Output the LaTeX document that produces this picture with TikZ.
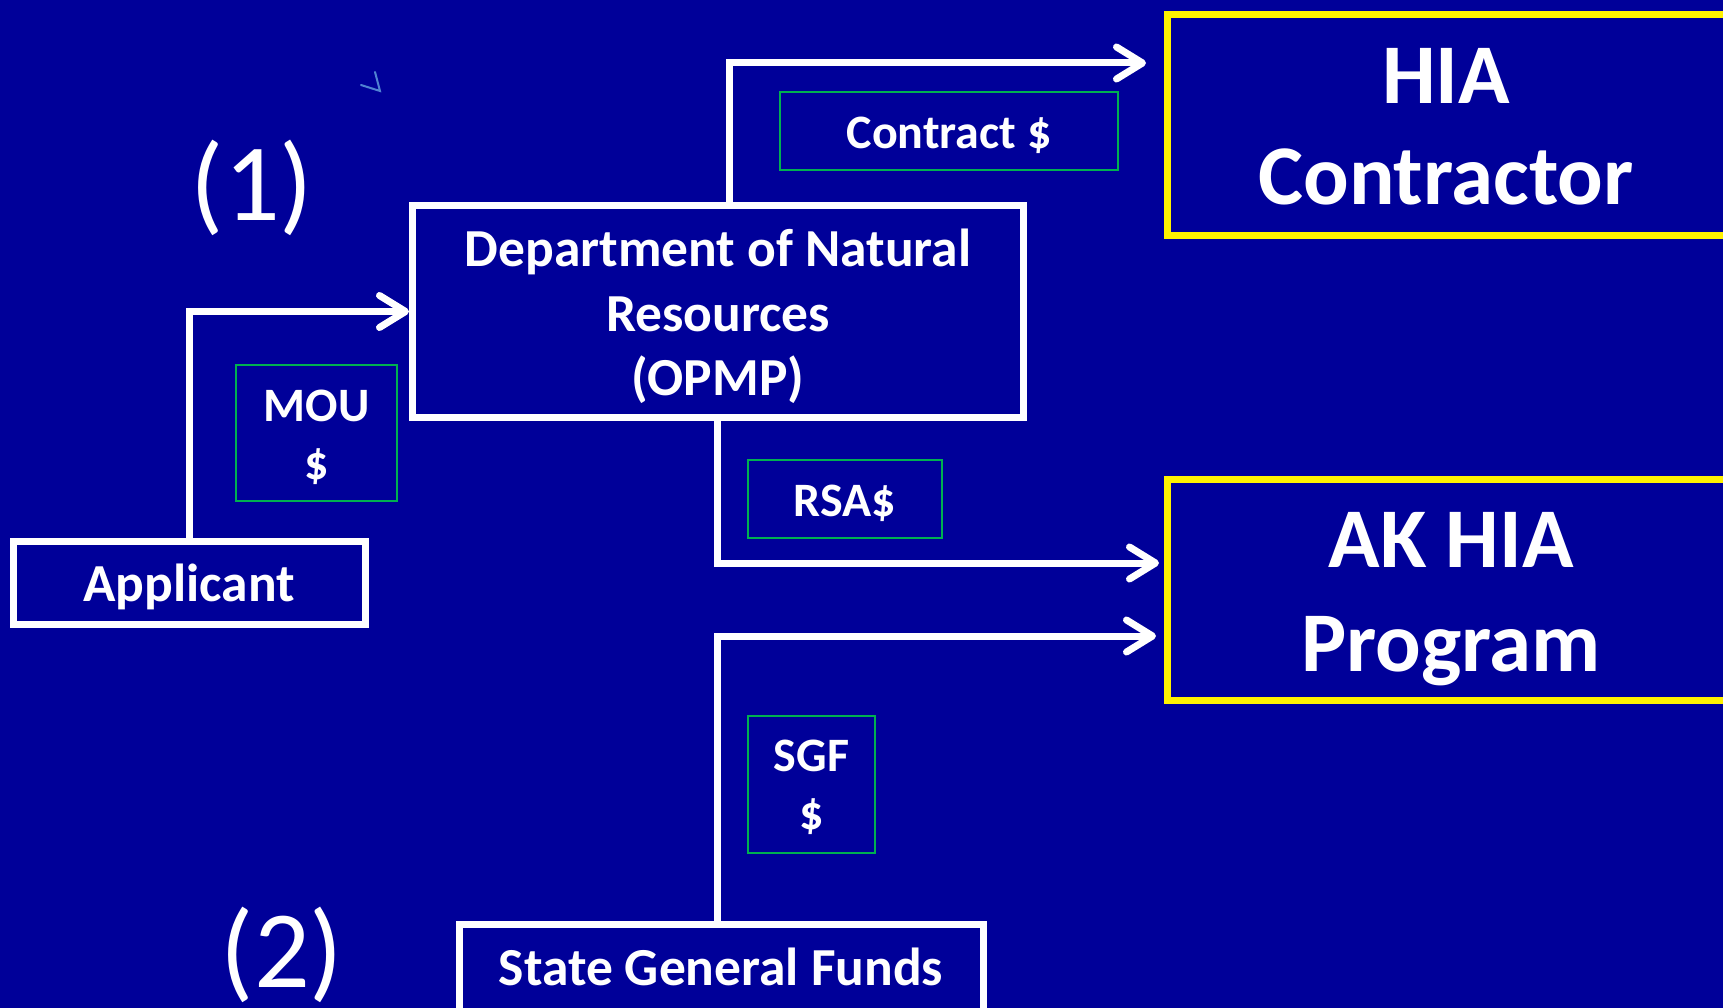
\documentclass[tikz,border=0pt]{standalone}
\usepackage{fontspec}
\setmainfont{Carlito}
\usetikzlibrary{arrows.meta}
\definecolor{bgblue}{RGB}{0,0,153}
\definecolor{lblgreen}{RGB}{0,176,80}
\definecolor{artblue}{RGB}{80,130,210}
\tikzset{
  whitebox/.style={draw=white, line width=7pt, inner sep=0pt},
  whitetext/.style={text=white, font=\fontsize{53.5}{64.5}\selectfont\bfseries, align=center, inner sep=0pt},
  yellowbox/.style={draw=yellow, line width=7pt, inner sep=0pt, outer sep=0pt},
  bigtext/.style={text=white, font=\fontsize{85}{101}\selectfont\bfseries, align=center, inner sep=0pt},
  lblbox/.style={draw=lblgreen, line width=2.5pt, inner sep=0pt},
  lbltext/.style={text=white, font=\fontsize{48}{58}\selectfont\bfseries, align=center, inner sep=0pt},
  numtext/.style={text=white, font=\fontsize{110}{130}\selectfont, inner sep=0pt},
  flow/.style={draw=white, line width=7pt, -{Straight Barb[length=26pt,width=32pt,round]}},
}
\begin{document}
\begin{tikzpicture}[x=1pt,y=-1pt]
\fill[bgblue] (0,0) rectangle (1723,1008);
\useasboundingbox (0,0) rectangle (1723,1008);
\clip (0,0) rectangle (1723,1008);
% artifact
\draw[artblue, line width=2pt, line cap=round] (361,85) -- (380,91) -- (375,72);
% boxes
\node[whitebox, minimum width=352pt, minimum height=83pt] (app) at (189,582.5) {};
\node[whitetext] (appt) at ([yshift=-4.5pt]app.center) {Applicant};
\node[whitebox, minimum width=611pt, minimum height=211pt] (dnr) at (718,311.5) {};
\node[whitetext] (dnrt) at ([yshift=-5pt]dnr.center) {Department of Natural\\Resources\\(OPMP)};
\node[whitebox, outer sep=0pt, minimum width=524pt, minimum height=120pt, anchor=north] (sgf) at (721,924) {};
\node[whitetext] (sgft) at (721,967) {State General Funds};
\node[yellowbox, minimum width=600pt, minimum height=221pt, anchor=north west] (hia) at (1167,15) {};
\node[bigtext] (hiat) at (1446,127) {HIA\\Contractor};
\node[yellowbox, minimum width=600pt, minimum height=221pt, anchor=north west] (ak) at (1167,479) {};
\node[bigtext, font=\fontsize{85}{104}\selectfont\bfseries] (akt) at (1451,599) {AK HIA\\Program};
% labels
\node[lblbox, minimum width=338pt, minimum height=78pt] (lc) at (949,131) {};
\node[lbltext] (lct) at ([yshift=-4.5pt]lc.center) {Contract \$};
\node[lblbox, minimum width=161pt, minimum height=136pt] (lm) at (316.5,433) {};
\node[lbltext] (lmt) at ([yshift=-4pt]lm.center) {MOU\\\$};
\node[lblbox, minimum width=194pt, minimum height=78pt] (lr) at (845,499) {};
\node[lbltext] (lrt) at ([yshift=-4.5pt]lr.center) {RSA\$};
\node[lblbox, minimum width=127pt, minimum height=137pt] (ls) at (811.5,784.5) {};
\node[lbltext] (lst) at ([yshift=-3pt]ls.center) {SGF\\\$};
% numbers
\node[numtext] (n1) at (252,188) {(1)};
\node[numtext] (n2) at (282,955) {(2)};
% connectors
\coordinate (c1) at (1146,63);
\coordinate (c2) at (1159,563);
\coordinate (c3) at (1156,636);
\draw[flow] (app.north) |- (dnr.west);
\draw[flow] ([xshift=11pt]dnr.north) |- (c1);
\draw[flow] ([xshift=-1pt]dnr.south) |- (c2);
\draw[flow] ([xshift=-4pt]sgf.north) |- (c3);
\end{tikzpicture}
\end{document}
